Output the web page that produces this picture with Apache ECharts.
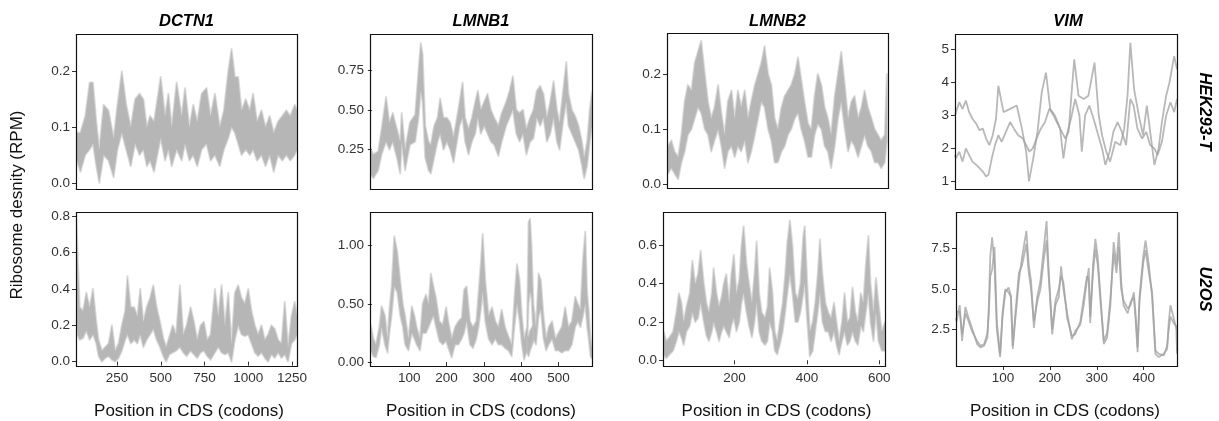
<!DOCTYPE html>
<html>
<head>
<meta charset="utf-8">
<script src="https://cdn.jsdelivr.net/npm/echarts@6/dist/echarts.min.js"></script>
<style>
  html, body { margin: 0; padding: 0; background: #fff; }
  #chart { width: 1219px; height: 421px; }
</style>
</head>
<body>
<div id="chart"></div>
<script>
// ---------------------------------------------------------------
// Labels
// ---------------------------------------------------------------
const genes = ['DCTN1', 'LMNB1', 'LMNB2', 'VIM'];
const cellLines = ['HEK293-T', 'U2OS'];
const xTitle = 'Position in CDS (codons)';
const yTitle = 'Ribosome desnity (RPM)';

// codon ticks per gene
const dctn1XTicks = [250, 500, 750, 1000, 1250];
const lmnb1XTicks = [100, 200, 300, 400, 500];
const lmnb2XTicks = [200, 400, 600];
const vimXTicks = [100, 200, 300, 400];

// density ticks per panel: [value, label]
const dctn1HekYTicks = [[0, '0.0'], [0.1, '0.1'], [0.2, '0.2']];
const lmnb1HekYTicks = [[0.25, '0.25'], [0.5, '0.50'], [0.75, '0.75']];
const lmnb2HekYTicks = [[0, '0.0'], [0.1, '0.1'], [0.2, '0.2']];
const vimHekYTicks = [[1, '1'], [2, '2'], [3, '3'], [4, '4'], [5, '5']];
const dctn1U2osYTicks = [[0, '0.0'], [0.2, '0.2'], [0.4, '0.4'], [0.6, '0.6'], [0.8, '0.8']];
const lmnb1U2osYTicks = [[0, '0.00'], [0.5, '0.50'], [1, '1.00']];
const lmnb2U2osYTicks = [[0, '0.0'], [0.2, '0.2'], [0.4, '0.4'], [0.6, '0.6']];
const vimU2osYTicks = [[2.5, '2.5'], [5, '5.0'], [7.5, '7.5']];

// ---------------------------------------------------------------
// Ribosome density envelopes: [codon, low, high]
// ---------------------------------------------------------------
const dctn1Hek = [
  [15,0.04,0.09],[21,0.04,0.09],[40,0.02,0.09],[68,0.05,0.12],[93,0.06,0.18],[112,0.07,0.18],
  [131,0.03,0.11],[148,0.00,0.06],[173,0.05,0.14],[201,0.04,0.13],[230,0.01,0.08],[252,0.06,0.14],
  [277,0.09,0.20],[302,0.06,0.14],[328,0.03,0.10],[353,0.07,0.15],[378,0.05,0.16],[400,0.06,0.15],
  [420,0.03,0.10],[438,0.04,0.12],[461,0.02,0.11],[480,0.05,0.15],[499,0.08,0.19],[524,0.04,0.12],
  [543,0.06,0.16],[562,0.03,0.10],[590,0.06,0.18],[619,0.04,0.12],[638,0.07,0.17],[663,0.04,0.10],
  [685,0.05,0.14],[708,0.03,0.11],[733,0.06,0.16],[761,0.07,0.17],[784,0.04,0.12],[809,0.05,0.16],
  [837,0.03,0.10],[860,0.06,0.13],[885,0.08,0.20],[904,0.10,0.24],[923,0.09,0.19],[942,0.07,0.19],
  [961,0.05,0.13],[985,0.06,0.15],[1008,0.05,0.13],[1027,0.06,0.16],[1050,0.04,0.11],[1075,0.05,0.13],
  [1098,0.03,0.10],[1122,0.05,0.12],[1145,0.02,0.09],[1170,0.05,0.11],[1194,0.04,0.12],[1217,0.05,0.13],
  [1240,0.04,0.12],[1265,0.05,0.14],[1278,0.06,0.13]
];

const lmnb1Hek = [
  [-5,0.10,0.26],[4,0.07,0.22],[17,0.12,0.24],[26,0.22,0.38],[38,0.30,0.58],[47,0.25,0.42],
  [56,0.30,0.48],[67,0.20,0.38],[76,0.10,0.30],[80,0.30,0.48],[89,0.12,0.25],[102,0.28,0.42],
  [116,0.30,0.47],[125,0.45,0.75],[131,0.62,0.92],[136,0.55,0.85],[143,0.20,0.40],[152,0.12,0.30],
  [158,0.10,0.28],[167,0.20,0.40],[176,0.30,0.45],[183,0.35,0.57],[192,0.25,0.45],[201,0.30,0.45],
  [210,0.25,0.42],[219,0.17,0.33],[228,0.30,0.45],[235,0.40,0.55],[243,0.45,0.67],[250,0.30,0.45],
  [259,0.22,0.38],[268,0.30,0.45],[277,0.35,0.55],[284,0.45,0.62],[292,0.35,0.50],[301,0.40,0.55],
  [310,0.35,0.60],[319,0.30,0.50],[328,0.28,0.45],[339,0.21,0.40],[348,0.30,0.48],[360,0.40,0.55],
  [369,0.45,0.62],[378,0.50,0.71],[387,0.35,0.50],[396,0.30,0.48],[405,0.35,0.50],[414,0.22,0.38],
  [424,0.30,0.45],[433,0.32,0.50],[442,0.45,0.62],[451,0.40,0.65],[460,0.45,0.60],[469,0.30,0.45],
  [478,0.35,0.55],[487,0.45,0.68],[496,0.30,0.50],[503,0.25,0.42],[514,0.45,0.65],[521,0.55,0.80],
  [527,0.40,0.60],[536,0.35,0.50],[545,0.30,0.46],[554,0.25,0.40],[563,0.15,0.30],[569,0.07,0.20],
  [577,0.15,0.30],[584,0.30,0.50],[590,0.40,0.61]
];

const lmnb2Hek = [
  [2,0.02,0.07],[5,0.02,0.07],[14,0.03,0.08],[23,0.02,0.06],[33,0.01,0.05],[42,0.04,0.09],
  [51,0.06,0.15],[60,0.09,0.18],[70,0.10,0.17],[79,0.12,0.22],[88,0.14,0.24],[97,0.13,0.26],
  [107,0.10,0.20],[116,0.09,0.15],[125,0.06,0.12],[134,0.08,0.14],[144,0.10,0.18],[153,0.07,0.13],
  [162,0.03,0.09],[171,0.06,0.15],[181,0.07,0.17],[190,0.05,0.12],[199,0.07,0.17],[208,0.06,0.14],
  [218,0.08,0.17],[227,0.04,0.12],[236,0.06,0.15],[246,0.09,0.18],[255,0.12,0.20],[264,0.15,0.22],
  [273,0.14,0.25],[283,0.10,0.20],[292,0.08,0.18],[301,0.04,0.12],[310,0.04,0.10],[320,0.06,0.14],
  [329,0.07,0.16],[338,0.09,0.17],[347,0.10,0.18],[357,0.12,0.20],[366,0.13,0.23],[375,0.10,0.19],
  [384,0.08,0.15],[394,0.05,0.11],[403,0.05,0.10],[412,0.09,0.16],[421,0.11,0.20],[431,0.10,0.18],
  [440,0.07,0.14],[449,0.06,0.12],[458,0.03,0.09],[468,0.07,0.16],[477,0.12,0.20],[486,0.15,0.24],
  [496,0.10,0.18],[505,0.06,0.12],[514,0.08,0.15],[523,0.07,0.16],[533,0.05,0.12],[542,0.07,0.14],
  [551,0.09,0.17],[560,0.07,0.14],[570,0.06,0.12],[579,0.04,0.10],[588,0.04,0.09],[597,0.03,0.08],
  [607,0.04,0.09],[613,0.08,0.20]
];

const dctn1U2os = [
  [15,0.40,0.80],[17,0.30,0.78],[24,0.15,0.60],[36,0.12,0.30],[55,0.13,0.28],[74,0.17,0.38],
  [93,0.12,0.30],[112,0.15,0.40],[131,0.10,0.22],[144,0.03,0.12],[163,0.00,0.06],[182,0.02,0.08],
  [201,0.03,0.10],[220,0.01,0.20],[239,0.00,0.06],[258,0.02,0.10],[277,0.06,0.20],[296,0.12,0.28],
  [309,0.15,0.47],[328,0.10,0.30],[347,0.12,0.30],[366,0.10,0.25],[382,0.15,0.40],[400,0.08,0.22],
  [419,0.12,0.30],[438,0.15,0.35],[457,0.18,0.42],[476,0.12,0.30],[495,0.08,0.22],[514,0.03,0.13],
  [530,0.00,0.08],[549,0.04,0.14],[568,0.05,0.20],[587,0.06,0.15],[609,0.08,0.42],[628,0.05,0.15],
  [647,0.03,0.20],[670,0.06,0.30],[689,0.04,0.22],[708,0.02,0.12],[727,0.05,0.20],[746,0.06,0.22],
  [765,0.03,0.12],[784,0.01,0.15],[809,0.05,0.40],[828,0.08,0.25],[847,0.05,0.42],[866,0.04,0.20],
  [885,0.05,0.38],[904,0.00,0.10],[923,0.12,0.38],[942,0.20,0.42],[961,0.15,0.35],[980,0.14,0.32],
  [999,0.15,0.40],[1018,0.10,0.28],[1037,0.05,0.20],[1056,0.03,0.15],[1075,0.05,0.20],[1094,0.02,0.12],
  [1113,0.00,0.15],[1132,0.04,0.20],[1151,0.02,0.18],[1170,0.05,0.12],[1189,0.02,0.10],[1208,0.04,0.33],
  [1227,0.00,0.08],[1246,0.10,0.25],[1265,0.12,0.33],[1278,0.15,0.25]
];

const lmnb1U2os = [
  [-5,0.12,0.32],[-3,0.10,0.32],[4,0.05,0.20],[11,0.04,0.15],[20,0.15,0.30],[26,0.30,0.48],
  [35,0.15,0.40],[42,0.08,0.20],[47,0.25,0.45],[53,0.40,0.65],[60,0.65,1.08],[68,0.60,0.95],
  [76,0.40,0.70],[83,0.30,0.50],[89,0.15,0.40],[98,0.10,0.20],[107,0.25,0.48],[114,0.20,0.40],
  [120,0.15,0.30],[129,0.10,0.20],[136,0.25,0.50],[145,0.25,0.58],[152,0.30,0.50],[158,0.35,0.76],
  [165,0.40,0.65],[172,0.30,0.55],[181,0.18,0.35],[190,0.15,0.32],[199,0.18,0.47],[205,0.12,0.35],
  [214,0.04,0.20],[223,0.15,0.30],[232,0.15,0.35],[241,0.20,0.38],[247,0.25,0.62],[254,0.35,0.65],
  [263,0.15,0.35],[271,0.12,0.30],[280,0.20,0.35],[286,0.30,0.60],[292,0.45,0.85],[297,0.60,1.10],
  [304,0.35,0.70],[313,0.20,0.40],[322,0.15,0.47],[331,0.20,0.35],[339,0.15,0.30],[348,0.15,0.45],
  [357,0.12,0.30],[366,0.10,0.22],[375,0.05,0.15],[382,0.30,0.55],[389,0.50,0.84],[396,0.35,0.70],
  [402,0.15,0.40],[408,0.02,0.20],[416,0.10,0.30],[420,0.50,1.20],[424,0.60,1.23],[428,0.55,1.00],
  [433,0.20,0.50],[440,0.15,0.30],[447,0.40,0.76],[453,0.45,0.70],[460,0.20,0.40],[467,0.10,0.20],
  [474,0.15,0.30],[483,0.20,0.35],[492,0.10,0.20],[500,0.10,0.25],[509,0.08,0.30],[518,0.10,0.47],
  [527,0.10,0.30],[536,0.15,0.35],[545,0.30,0.56],[552,0.35,0.50],[559,0.30,0.45],[566,0.40,0.89],
  [572,0.50,1.12],[577,0.30,0.60],[581,0.20,0.45],[586,0.05,0.20],[590,0.03,0.12]
];
// second replicate runs low under the codon-424 peak
const lmnb1U2osLow = [[416,0.08,0.22],[420,0.05,0.22],[424,0.10,0.27],[430,0.15,0.30],[433,0.18,0.32]];

const lmnb2U2os = [
  [2,0.05,0.15],[4,0.03,0.15],[11,0.01,0.10],[20,0.03,0.12],[30,0.05,0.15],[39,0.10,0.25],
  [46,0.15,0.35],[53,0.12,0.30],[59,0.08,0.20],[67,0.15,0.28],[76,0.18,0.35],[83,0.25,0.52],
  [91,0.20,0.40],[99,0.22,0.45],[106,0.30,0.57],[115,0.20,0.40],[122,0.13,0.30],[129,0.10,0.25],
  [137,0.15,0.35],[142,0.20,0.48],[150,0.15,0.35],[157,0.10,0.28],[164,0.15,0.33],[170,0.18,0.40],
  [177,0.15,0.45],[185,0.12,0.30],[191,0.18,0.45],[198,0.22,0.55],[205,0.15,0.35],[213,0.20,0.42],
  [219,0.30,0.60],[225,0.35,0.70],[233,0.25,0.50],[240,0.18,0.40],[248,0.12,0.30],[255,0.20,0.45],
  [261,0.30,0.62],[268,0.15,0.35],[275,0.10,0.25],[284,0.08,0.22],[291,0.10,0.28],[297,0.20,0.48],
  [305,0.15,0.35],[311,0.05,0.15],[318,0.03,0.10],[325,0.08,0.20],[333,0.15,0.30],[340,0.25,0.45],
  [346,0.35,0.62],[353,0.45,0.73],[360,0.35,0.60],[368,0.20,0.35],[375,0.20,0.32],[382,0.25,0.40],
  [390,0.35,0.65],[394,0.40,0.70],[401,0.20,0.40],[408,0.02,0.15],[416,0.05,0.20],[423,0.15,0.30],
  [430,0.25,0.45],[436,0.35,0.63],[443,0.20,0.45],[451,0.15,0.30],[459,0.15,0.25],[467,0.10,0.22],
  [475,0.15,0.30],[482,0.08,0.20],[489,0.03,0.10],[497,0.10,0.20],[504,0.15,0.35],[512,0.08,0.20],
  [519,0.10,0.22],[526,0.15,0.38],[534,0.10,0.25],[541,0.08,0.20],[549,0.18,0.35],[556,0.15,0.30],
  [563,0.25,0.50],[570,0.35,0.65],[576,0.20,0.40],[584,0.10,0.25],[591,0.25,0.43],[598,0.10,0.30],
  [607,0.05,0.15],[616,0.05,0.20]
];

// ---------------------------------------------------------------
// VIM replicate traces: [codon, density]
// ---------------------------------------------------------------
const vimHekRep1 = [
  [0,3.0],[2,3.1],[9,3.4],[16,3.2],[23,3.45],[30,3.1],[37,2.9],[45,2.75],[52,2.55],[59,2.6],
  [66,2.3],[73,2.1],[80,2.4],[87,2.9],[92,3.9],[103,3.1],[117,3.2],[131,3.3],[142,2.6],[151,1.9],
  [157,1.0],[166,1.7],[175,2.5],[184,3.7],[193,4.3],[202,3.2],[212,3.0],[223,2.6],[234,2.3],[241,2.5],
  [248,3.8],[253,4.7],[262,3.6],[273,3.5],[283,3.6],[296,4.6],[305,3.0],[312,2.4],[321,1.9],[329,1.6],
  [340,2.2],[351,2.1],[359,2.6],[366,3.6],[372,5.2],[380,3.8],[390,3.0],[399,2.4],[407,3.3],[416,2.3],
  [423,1.5],[432,2.0],[439,2.8],[448,3.6],[455,4.0],[465,4.8],[471,4.4]
];
const vimHekRep2 = [
  [0,1.8],[2,1.7],[9,1.9],[16,1.6],[23,2.0],[30,1.8],[37,1.6],[45,1.5],[52,1.4],[59,1.3],
  [66,1.15],[71,1.2],[78,1.7],[85,2.1],[92,2.4],[99,2.2],[108,2.5],[117,2.8],[125,2.6],[134,2.4],
  [144,2.3],[151,2.1],[158,1.9],[165,2.0],[173,2.3],[182,2.6],[191,2.8],[200,3.2],[209,3.0],[216,2.8],
  [223,2.6],[230,1.7],[237,2.4],[246,2.9],[255,3.5],[264,3.0],[269,1.9],[276,3.0],[285,3.3],[294,2.9],
  [302,2.5],[312,2.0],[319,1.5],[328,1.9],[336,2.5],[345,2.8],[354,2.5],[363,2.1],[372,3.5],[379,3.3],
  [387,2.6],[397,2.3],[406,2.5],[414,2.1],[423,2.0],[430,1.8],[439,2.2],[448,3.0],[457,3.4],[465,3.1],
  [471,3.5]
];
const vimU2osRep1 = [
  [0,3.2],[1,3.0],[8,4.0],[13,1.8],[20,3.9],[27,3.2],[34,2.6],[45,1.6],[52,1.4],[60,1.5],
  [67,2.0],[70,4.0],[73,7.0],[77,8.2],[82,6.5],[87,2.5],[94,0.8],[99,3.5],[105,5.0],[112,4.8],
  [117,4.5],[121,1.3],[126,3.0],[134,5.5],[141,7.0],[150,8.6],[155,6.5],[160,5.5],[166,2.6],[173,4.5],
  [180,5.5],[187,7.5],[193,9.2],[197,6.5],[205,2.2],[212,4.0],[219,4.5],[224,6.4],[229,5.0],[237,3.5],
  [247,1.9],[254,2.4],[265,2.8],[272,4.0],[279,5.5],[283,6.3],[286,2.9],[292,6.5],[297,8.1],[302,7.0],
  [308,4.5],[315,1.6],[322,2.0],[329,4.0],[336,7.9],[342,6.5],[347,8.5],[352,5.5],[357,4.0],[366,3.5],
  [372,4.2],[379,4.5],[383,3.0],[387,1.1],[391,4.5],[399,7.0],[404,8.0],[411,6.5],[418,4.5],[425,1.0],
  [432,0.8],[443,1.0],[450,1.3],[453,2.8],[457,4.0],[464,3.2],[470,2.5],[471,1.0]
];
const vimU2osRep2 = [
  [0,3.6],[1,3.5],[8,3.6],[13,2.2],[20,3.5],[27,3.0],[34,2.4],[45,1.8],[52,1.5],[60,1.6],
  [67,2.3],[70,3.5],[73,5.8],[77,6.2],[82,7.6],[87,3.0],[94,1.0],[99,3.2],[105,4.8],[112,5.1],
  [117,4.6],[121,1.5],[126,3.3],[134,6.0],[141,6.5],[150,7.8],[155,6.0],[160,5.0],[166,3.0],[173,4.2],
  [180,5.0],[187,6.8],[193,8.0],[197,6.0],[205,2.5],[212,4.3],[219,5.0],[224,5.8],[229,5.4],[237,3.2],
  [247,2.1],[254,2.2],[265,3.0],[272,4.4],[279,5.8],[283,5.5],[286,3.3],[292,6.0],[297,7.5],[302,6.5],
  [308,4.2],[315,1.8],[322,2.3],[329,4.4],[336,7.2],[342,6.0],[347,7.6],[352,5.0],[357,4.3],[366,3.8],
  [372,4.0],[379,4.8],[383,3.4],[387,1.4],[391,4.2],[399,6.6],[404,7.4],[411,6.0],[418,4.8],[425,1.2],
  [432,1.0],[443,0.9],[450,1.5],[453,2.4],[457,3.3],[464,2.9],[470,2.7],[471,1.2]
];

// ---------------------------------------------------------------
// Panel layout (2 rows x 4 genes)
// ---------------------------------------------------------------
const FONT = '"Liberation Sans", Arial, Helvetica, sans-serif';
const BAND = '#b6b6b6';
const BAND_EDGE = 'rgba(190,190,190,0.55)';
const TRACE = 'rgba(160,160,160,0.75)';
const TEXT = '#333';

const panels = [
  { box: [76, 34, 221, 155],  x: [15, 1278],   y: [-0.011, 0.267], xTicks: dctn1XTicks, yTicks: dctn1HekYTicks,  bands: [dctn1Hek],  traces: [], bottom: false },
  { box: [370, 34, 222, 155], x: [-5, 590],    y: [0.003, 0.976],  xTicks: lmnb1XTicks, yTicks: lmnb1HekYTicks,  bands: [lmnb1Hek],  traces: [], bottom: false },
  { box: [667, 33, 221, 155], x: [2, 616],     y: [-0.006, 0.274], xTicks: lmnb2XTicks, yTicks: lmnb2HekYTicks,  bands: [lmnb2Hek],  traces: [], bottom: false },
  { box: [955, 34, 222, 155], x: [0, 471],     y: [0.77, 5.47],    xTicks: vimXTicks,   yTicks: vimHekYTicks,    bands: [], traces: [vimHekRep1, vimHekRep2], bottom: false },
  { box: [76, 212, 221, 154], x: [15, 1278],   y: [-0.024, 0.824], xTicks: dctn1XTicks, yTicks: dctn1U2osYTicks, bands: [dctn1U2os], traces: [], bottom: true },
  { box: [370, 212, 222, 154], x: [-5, 590],   y: [-0.034, 1.289], xTicks: lmnb1XTicks, yTicks: lmnb1U2osYTicks, bands: [lmnb1U2os, lmnb1U2osLow], traces: [], bottom: true },
  { box: [663, 212, 222, 154], x: [2, 616],    y: [-0.03, 0.774],  xTicks: lmnb2XTicks, yTicks: lmnb2U2osYTicks, bands: [lmnb2U2os], traces: [], bottom: true },
  { box: [956, 212, 221, 154], x: [0, 471],    y: [0.25, 9.76],    xTicks: vimXTicks,   yTicks: vimU2osYTicks,   bands: [], traces: [vimU2osRep1, vimU2osRep2], bottom: true }
];

const labelStyle = { fontSize: 13.5, color: TEXT, fontFamily: FONT };

function bandSeries(rows, idx) {
  return {
    type: 'custom',
    xAxisIndex: idx,
    yAxisIndex: idx,
    silent: true,
    clip: true,
    z: 2,
    data: rows,
    encode: { x: 0, y: [1, 2] },
    renderItem(params, api) {
      if (params.dataIndex !== 0) return null;
      const upper = rows.map(r => api.coord([r[0], r[2]]));
      const lower = rows.map(r => api.coord([r[0], r[1]])).reverse();
      return {
        type: 'polygon',
        shape: { points: upper.concat(lower) },
        style: { fill: BAND, stroke: BAND_EDGE, lineWidth: 2, lineJoin: 'round' }
      };
    }
  };
}

const option = {
  animation: false,
  backgroundColor: '#fff',
  grid: [], xAxis: [], yAxis: [], series: [], graphic: []
};

panels.forEach((p, i) => {
  const [left, top, width, height] = p.box;
  option.grid.push({ left, top, width, height, containLabel: false, outerBoundsMode: 'none', show: false });

  option.xAxis.push({
    type: 'value', gridIndex: i, min: p.x[0], max: p.x[1],
    axisLine: { show: false }, splitLine: { show: false },
    axisTick: { show: p.bottom, customValues: p.xTicks, length: 4, lineStyle: { color: TEXT, width: 1 } },
    axisLabel: Object.assign({ show: p.bottom, customValues: p.xTicks, margin: 5, formatter: v => String(v) }, labelStyle)
  });

  const yVals = p.yTicks.map(t => t[0]);
  option.yAxis.push({
    type: 'value', gridIndex: i, min: p.y[0], max: p.y[1],
    axisLine: { show: false }, splitLine: { show: false },
    axisTick: { show: true, customValues: yVals, length: 4, lineStyle: { color: TEXT, width: 1 } },
    axisLabel: Object.assign({
      customValues: yVals, margin: 6,
      formatter: v => { const t = p.yTicks.find(t => Math.abs(t[0] - v) < 1e-9); return t ? t[1] : ''; }
    }, labelStyle)
  });

  p.bands.forEach(rows => option.series.push(bandSeries(rows, i)));
  p.traces.forEach(rows => option.series.push({
    type: 'line', xAxisIndex: i, yAxisIndex: i, data: rows,
    showSymbol: false, symbol: 'none', silent: true, clip: true, z: 2,
    lineStyle: { color: TRACE, width: 1.8 }
  }));

  // panel frame
  option.graphic.push({
    type: 'rect', z: 100, silent: true,
    shape: { x: left + 0.5, y: top + 0.5, width: width, height: height },
    style: { fill: 'none', stroke: '#111', lineWidth: 1.2 }
  });
});

// gene names over the columns
const colTitleX = [186.5, 481, 777.5, 1068];
genes.forEach((g, c) => option.graphic.push({
  type: 'text', z: 100, x: colTitleX[c], y: 21,
  style: { text: g, font: 'italic bold 16.5px ' + FONT, fill: '#000', align: 'center', verticalAlign: 'middle' }
}));

// cell line strips on the right, reading downwards
const rowStripY = [111.5, 289];
cellLines.forEach((c, r) => option.graphic.push({
  type: 'text', z: 100, x: 1205, y: rowStripY[r], rotation: -Math.PI / 2,
  style: { text: c, font: 'italic bold 16.5px ' + FONT, fill: '#000', align: 'center', verticalAlign: 'middle' }
}));

// shared axis titles
const xTitleX = [189, 481, 776.5, 1065];
xTitleX.forEach(x => option.graphic.push({
  type: 'text', z: 100, x: x, y: 411,
  style: { text: xTitle, font: '17px ' + FONT, fill: '#111', align: 'center', verticalAlign: 'middle' }
}));
option.graphic.push({
  type: 'text', z: 100, x: 17, y: 205, rotation: Math.PI / 2,
  style: { text: yTitle, font: '17px ' + FONT, fill: '#111', align: 'center', verticalAlign: 'middle' }
});

const chart = echarts.init(document.getElementById('chart'), null, { renderer: 'canvas' });
chart.setOption(option);
</script>
</body>
</html>
